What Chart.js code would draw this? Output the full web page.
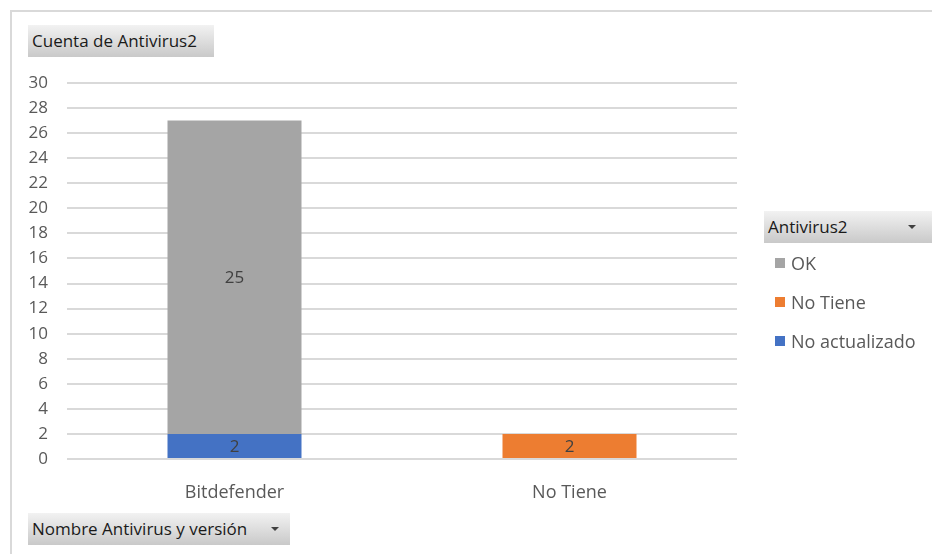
<!DOCTYPE html>
<html>
<head>
<meta charset="utf-8">
<script src="https://cdn.jsdelivr.net/npm/chart.js@4.4.1/dist/chart.umd.min.js"></script>
<style>
    html, body { margin: 0; padding: 0; background: #fff; }
    body { width: 932px; height: 554px; position: relative; overflow: hidden; font-family: "Open Sans", sans-serif; }
    #frame { position: absolute; left: 10px; top: 10px; width: 940px; height: 560px; border-left: 2px solid #d9d9d9; border-top: 2px solid #d9d9d9; }
    #chart { position: absolute; left: 0; top: 0; }
    .field-btn {
        position: absolute; height: 32px; box-sizing: border-box;
        background: linear-gradient(#f2f2f2, #c9c9c9);
        color: #1a1a1a; font-size: 17px; line-height: 31px; padding-left: 4px;
    }
    .field-btn .arrow {
        position: absolute; top: 14px; width: 0; height: 0;
        border-left: 4px solid transparent; border-right: 4px solid transparent; border-top: 4px solid #404040;
    }
    #legend { position: absolute; left: 775px; top: 243px; list-style: none; margin: 0; padding: 0; }
    #legend li { height: 39px; font-size: 18px; color: #595959; display: flex; align-items: center; }
    #legend .box { width: 10px; height: 10px; margin-right: 6px; }
</style>
</head>
<body>
<div id="frame"></div>
<canvas id="chart" width="932" height="554"></canvas>
<div class="field-btn" style="left:28px; top:25px; width:186px;">Cuenta de Antivirus2</div>
<div class="field-btn" style="left:764px; top:211px; width:170px;">Antivirus2<span class="arrow" style="left:144px;"></span></div>
<div class="field-btn" style="left:28px; top:513px; width:262px;">Nombre Antivirus y versión<span class="arrow" style="left:243px;"></span></div>
<ul id="legend"></ul>
<script>
    // Categorías y series (tabla dinámica: Cuenta de Antivirus2)
    const categories = ['Bitdefender', 'No Tiene'];
    const seriesNames = ['No actualizado', 'No Tiene', 'OK'];
    const noActualizado = [2, 0];
    const noTiene = [0, 2];
    const ok = [25, 0];
    const seriesColors = ['#4472C4', '#ED7D31', '#A5A5A5'];
    const yTicks = [0, 2, 4, 6, 8, 10, 12, 14, 16, 18, 20, 22, 24, 26, 28, 30];

    const seriesValues = [noActualizado, noTiene, ok];
    const FONT = '"Open Sans", sans-serif';

    // Etiquetas de datos centradas en cada segmento
    const dataLabels = {
        id: 'dataLabels',
        afterDatasetsDraw(chart) {
            const ctx = chart.ctx;
            ctx.save();
            ctx.font = '17px ' + FONT;
            ctx.fillStyle = '#404040';
            ctx.textAlign = 'center';
            ctx.textBaseline = 'middle';
            chart.data.datasets.forEach((ds, i) => {
                chart.getDatasetMeta(i).data.forEach((bar, j) => {
                    const v = ds.data[j];
                    if (!v) return;
                    const mid = (bar.y + bar.base) / 2;
                    ctx.fillText(String(v), bar.x, mid + 1);
                });
            });
            ctx.restore();
        }
    };

    const chart = new Chart(document.getElementById('chart'), {
        type: 'bar',
        data: {
            labels: categories,
            datasets: seriesNames.map((name, i) => ({
                label: name,
                data: seriesValues[i],
                backgroundColor: seriesColors[i],
                borderWidth: 0,
                categoryPercentage: 1,
                barPercentage: 0.4
            }))
        },
        options: {
            responsive: false,
            animation: false,
            layout: { padding: { left: 20, top: 83, right: 195, bottom: 55 } },
            plugins: { legend: { display: false }, tooltip: { enabled: false } },
            scales: {
                x: {
                    stacked: true,
                    grid: { display: false },
                    border: { display: false },
                    ticks: { color: '#595959', font: { family: FONT, size: 18 }, padding: 15 },
                    afterFit(scale) { scale.height = 40; }
                },
                y: {
                    stacked: true,
                    min: 0,
                    max: 30,
                    afterBuildTicks(scale) { scale.ticks = yTicks.map(v => ({ value: v })); },
                    grid: { color: '#d9d9d9', lineWidth: 2, drawTicks: false },
                    border: { display: false },
                    ticks: { color: '#595959', font: { family: FONT, size: 17 }, padding: 19 },
                    afterFit(scale) { scale.width = 47; }
                }
            }
        },
        plugins: [dataLabels]
    });

    // Leyenda (orden inverso como en Excel)
    const legend = document.getElementById('legend');
    for (let i = seriesNames.length - 1; i >= 0; i--) {
        const li = document.createElement('li');
        li.innerHTML = `<span class="box" style="background:${seriesColors[i]}"></span>${seriesNames[i]}`;
        legend.appendChild(li);
    }
</script>
</body>
</html>
